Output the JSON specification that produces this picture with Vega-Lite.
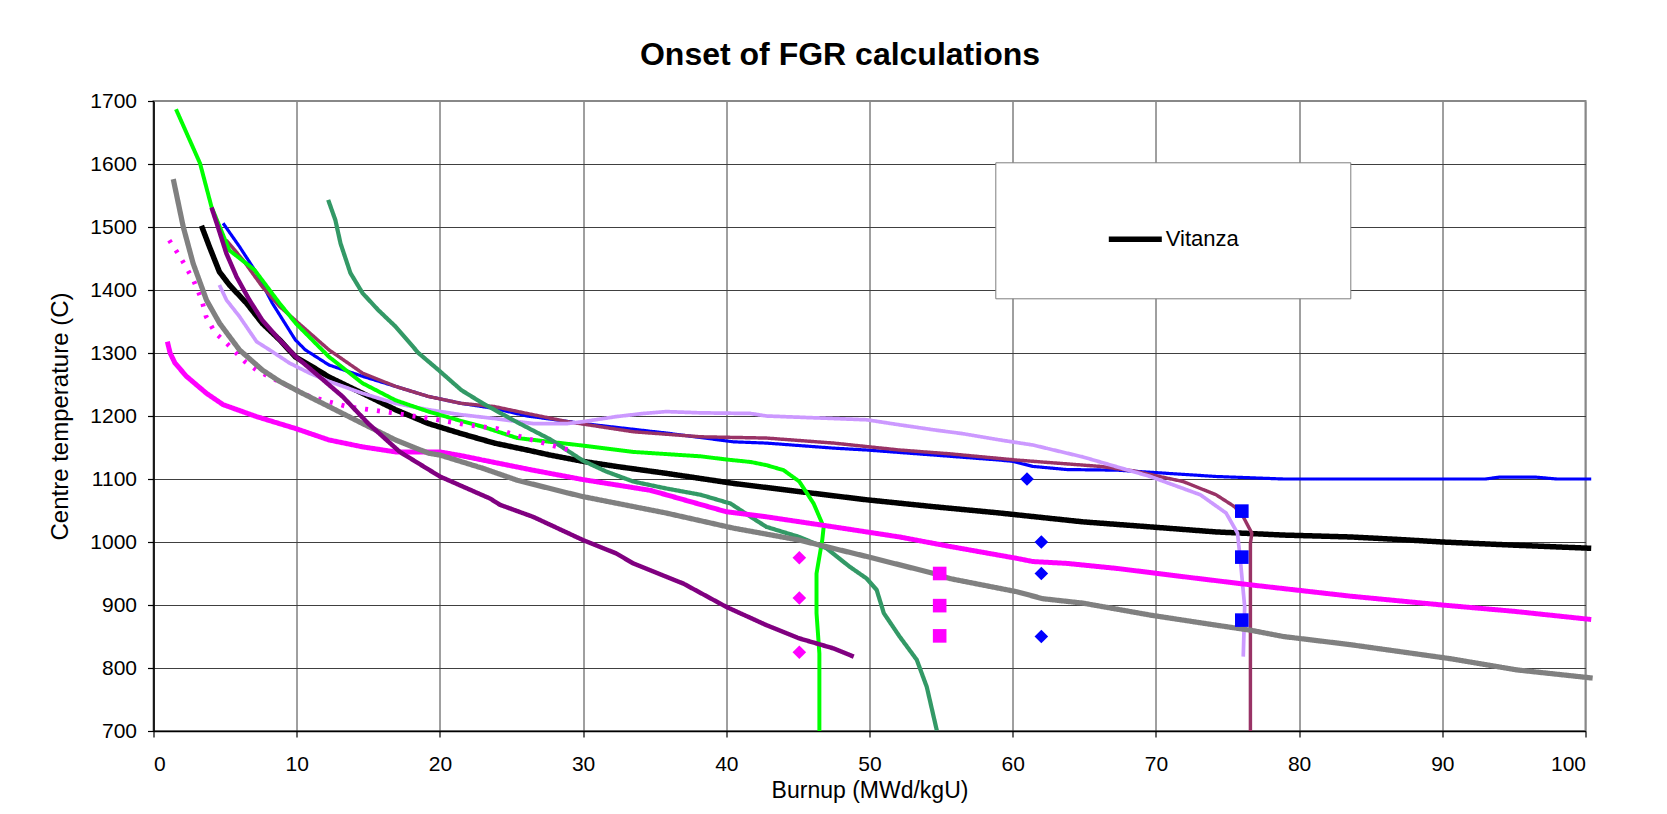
{
  "$schema": "https://vega.github.io/schema/vega-lite/v6.json",
  "width": 1432,
  "height": 630,
  "autosize": {"type": "none"},
  "padding": {"left": 153.5, "top": 101, "right": 81.5, "bottom": 83},
  "background": "white",
  "title": {"text": "Onset of FGR calculations", "fontSize": 32, "font": "Liberation Sans", "fontWeight": "bold", "color": "black", "anchor": "middle", "dx": -29.5, "offset": 18},
  "config": {
    "view": {"stroke": "#888888", "strokeWidth": 2},
    "font": "Liberation Sans",
    "axis": {
      "domainColor": "black", "domainWidth": 1.5, "tickColor": "black", "tickSize": 6, "tickWidth": 1.2,
      "labelFontSize": 21, "labelColor": "black", "labelFont": "Liberation Sans",
      "titleFontSize": 23, "titleFontWeight": "normal", "titleColor": "black", "titleFont": "Liberation Sans",
      "gridWidth": 1
    }
  },
  "datasets": {
    "lines": [
      {"series": "Vitanza", "burnup": 3.35, "temp": 1502}, {"series": "Vitanza", "burnup": 3.9, "temp": 1469}, {"series": "Vitanza", "burnup": 4.6, "temp": 1429}, {"series": "Vitanza", "burnup": 5.3, "temp": 1408}, {"series": "Vitanza", "burnup": 6.5, "temp": 1379}, {"series": "Vitanza", "burnup": 7.6, "temp": 1347}, {"series": "Vitanza", "burnup": 8.8, "temp": 1321}, {"series": "Vitanza", "burnup": 9.9, "temp": 1294}, {"series": "Vitanza", "burnup": 11.1, "temp": 1278}, {"series": "Vitanza", "burnup": 12.25, "temp": 1262}, {"series": "Vitanza", "burnup": 14.6, "temp": 1236}, {"series": "Vitanza", "burnup": 16.9, "temp": 1210}, {"series": "Vitanza", "burnup": 19.2, "temp": 1188}, {"series": "Vitanza", "burnup": 21.5, "temp": 1172}, {"series": "Vitanza", "burnup": 23.8, "temp": 1157}, {"series": "Vitanza", "burnup": 26.1, "temp": 1146}, {"series": "Vitanza", "burnup": 27.7, "temp": 1138}, {"series": "Vitanza", "burnup": 30, "temp": 1128}, {"series": "Vitanza", "burnup": 32.3, "temp": 1120}, {"series": "Vitanza", "burnup": 35.8, "temp": 1109}, {"series": "Vitanza", "burnup": 40.5, "temp": 1093}, {"series": "Vitanza", "burnup": 45.1, "temp": 1080}, {"series": "Vitanza", "burnup": 49.8, "temp": 1067}, {"series": "Vitanza", "burnup": 54.5, "temp": 1056}, {"series": "Vitanza", "burnup": 59.1, "temp": 1046}, {"series": "Vitanza", "burnup": 64.9, "temp": 1032}, {"series": "Vitanza", "burnup": 69.6, "temp": 1024}, {"series": "Vitanza", "burnup": 74.2, "temp": 1016}, {"series": "Vitanza", "burnup": 78.9, "temp": 1011}, {"series": "Vitanza", "burnup": 83.6, "temp": 1008}, {"series": "Vitanza", "burnup": 87, "temp": 1004}, {"series": "Vitanza", "burnup": 90, "temp": 1000}, {"series": "Vitanza", "burnup": 95, "temp": 995}, {"series": "Vitanza", "burnup": 100.4, "temp": 990},

      {"series": "Blue", "burnup": 4.86, "temp": 1506}, {"series": "Blue", "burnup": 6.0, "temp": 1469}, {"series": "Blue", "burnup": 7.2, "temp": 1427}, {"series": "Blue", "burnup": 8.3, "temp": 1379}, {"series": "Blue", "burnup": 9.9, "temp": 1321}, {"series": "Blue", "burnup": 10.6, "temp": 1305}, {"series": "Blue", "burnup": 12.25, "temp": 1281}, {"series": "Blue", "burnup": 14.6, "temp": 1263}, {"series": "Blue", "burnup": 16.9, "temp": 1247}, {"series": "Blue", "burnup": 19.2, "temp": 1231}, {"series": "Blue", "burnup": 21.5, "temp": 1220}, {"series": "Blue", "burnup": 23.8, "temp": 1212}, {"series": "Blue", "burnup": 26.1, "temp": 1200}, {"series": "Blue", "burnup": 30, "temp": 1188}, {"series": "Blue", "burnup": 35.8, "temp": 1173}, {"series": "Blue", "burnup": 40.5, "temp": 1159}, {"series": "Blue", "burnup": 42.8, "temp": 1157}, {"series": "Blue", "burnup": 47.5, "temp": 1149}, {"series": "Blue", "burnup": 49.8, "temp": 1146}, {"series": "Blue", "burnup": 54.5, "temp": 1138}, {"series": "Blue", "burnup": 59.1, "temp": 1130}, {"series": "Blue", "burnup": 60, "temp": 1128}, {"series": "Blue", "burnup": 61.4, "temp": 1120}, {"series": "Blue", "burnup": 63.8, "temp": 1115}, {"series": "Blue", "burnup": 67.3, "temp": 1114}, {"series": "Blue", "burnup": 70.1, "temp": 1110}, {"series": "Blue", "burnup": 74.2, "temp": 1104}, {"series": "Blue", "burnup": 78.9, "temp": 1100}, {"series": "Blue", "burnup": 83.6, "temp": 1100}, {"series": "Blue", "burnup": 93, "temp": 1100}, {"series": "Blue", "burnup": 94, "temp": 1103}, {"series": "Blue", "burnup": 96.5, "temp": 1103}, {"series": "Blue", "burnup": 98, "temp": 1100}, {"series": "Blue", "burnup": 100.4, "temp": 1100},

      {"series": "Maroon", "burnup": 5.09, "temp": 1479}, {"series": "Maroon", "burnup": 6.24, "temp": 1448}, {"series": "Maroon", "burnup": 7.6, "temp": 1405}, {"series": "Maroon", "burnup": 8.8, "temp": 1374}, {"series": "Maroon", "burnup": 10.4, "temp": 1342}, {"series": "Maroon", "burnup": 12.25, "temp": 1305}, {"series": "Maroon", "burnup": 14.6, "temp": 1268}, {"series": "Maroon", "burnup": 16.9, "temp": 1247}, {"series": "Maroon", "burnup": 19.2, "temp": 1231}, {"series": "Maroon", "burnup": 21.5, "temp": 1220}, {"series": "Maroon", "burnup": 23.8, "temp": 1215}, {"series": "Maroon", "burnup": 26.1, "temp": 1204}, {"series": "Maroon", "burnup": 28.9, "temp": 1191}, {"series": "Maroon", "burnup": 33.5, "temp": 1175}, {"series": "Maroon", "burnup": 38.2, "temp": 1167}, {"series": "Maroon", "burnup": 42.8, "temp": 1165}, {"series": "Maroon", "burnup": 47.5, "temp": 1157}, {"series": "Maroon", "burnup": 52.1, "temp": 1146}, {"series": "Maroon", "burnup": 55.6, "temp": 1140}, {"series": "Maroon", "burnup": 60.3, "temp": 1130}, {"series": "Maroon", "burnup": 66.1, "temp": 1120}, {"series": "Maroon", "burnup": 68.4, "temp": 1113}, {"series": "Maroon", "burnup": 71.9, "temp": 1096}, {"series": "Maroon", "burnup": 74.2, "temp": 1075}, {"series": "Maroon", "burnup": 75.5, "temp": 1056}, {"series": "Maroon", "burnup": 76.1, "temp": 1040}, {"series": "Maroon", "burnup": 76.7, "temp": 1014}, {"series": "Maroon", "burnup": 76.6, "temp": 998}, {"series": "Maroon", "burnup": 76.6, "temp": 700},

      {"series": "Lilac", "burnup": 4.6, "temp": 1408}, {"series": "Lilac", "burnup": 5.1, "temp": 1384}, {"series": "Lilac", "burnup": 6.0, "temp": 1358}, {"series": "Lilac", "burnup": 7.2, "temp": 1318}, {"series": "Lilac", "burnup": 8.1, "temp": 1305}, {"series": "Lilac", "burnup": 9.5, "temp": 1284}, {"series": "Lilac", "burnup": 10.9, "temp": 1268}, {"series": "Lilac", "burnup": 12.25, "temp": 1255}, {"series": "Lilac", "burnup": 14.6, "temp": 1236}, {"series": "Lilac", "burnup": 16.9, "temp": 1220}, {"series": "Lilac", "burnup": 19.2, "temp": 1210}, {"series": "Lilac", "burnup": 21.5, "temp": 1202}, {"series": "Lilac", "burnup": 23.8, "temp": 1196}, {"series": "Lilac", "burnup": 26.5, "temp": 1188}, {"series": "Lilac", "burnup": 28.9, "temp": 1188}, {"series": "Lilac", "burnup": 30, "temp": 1191}, {"series": "Lilac", "burnup": 32.3, "temp": 1199}, {"series": "Lilac", "burnup": 34.2, "temp": 1204}, {"series": "Lilac", "burnup": 35.8, "temp": 1207}, {"series": "Lilac", "burnup": 38.2, "temp": 1205}, {"series": "Lilac", "burnup": 41.7, "temp": 1204}, {"series": "Lilac", "burnup": 42.8, "temp": 1200}, {"series": "Lilac", "burnup": 47.5, "temp": 1196}, {"series": "Lilac", "burnup": 49.8, "temp": 1194}, {"series": "Lilac", "burnup": 52.1, "temp": 1186}, {"series": "Lilac", "burnup": 54.5, "temp": 1178}, {"series": "Lilac", "burnup": 56.5, "temp": 1172}, {"series": "Lilac", "burnup": 59.1, "temp": 1162}, {"series": "Lilac", "burnup": 61.4, "temp": 1154}, {"series": "Lilac", "burnup": 64.9, "temp": 1135}, {"series": "Lilac", "burnup": 69.6, "temp": 1104}, {"series": "Lilac", "burnup": 73.1, "temp": 1075}, {"series": "Lilac", "burnup": 74.9, "temp": 1046}, {"series": "Lilac", "burnup": 75.7, "temp": 1014}, {"series": "Lilac", "burnup": 75.9, "temp": 971}, {"series": "Lilac", "burnup": 76.2, "temp": 897}, {"series": "Lilac", "burnup": 76.1, "temp": 818},

      {"series": "Green", "burnup": 1.57, "temp": 1687}, {"series": "Green", "burnup": 3.25, "temp": 1601}, {"series": "Green", "burnup": 4.05, "temp": 1532}, {"series": "Green", "burnup": 5.3, "temp": 1463}, {"series": "Green", "burnup": 7.05, "temp": 1432}, {"series": "Green", "burnup": 8.8, "temp": 1379}, {"series": "Green", "burnup": 9.94, "temp": 1347}, {"series": "Green", "burnup": 12.25, "temp": 1294}, {"series": "Green", "burnup": 14.6, "temp": 1252}, {"series": "Green", "burnup": 16.9, "temp": 1225}, {"series": "Green", "burnup": 19.2, "temp": 1207}, {"series": "Green", "burnup": 21.5, "temp": 1192}, {"series": "Green", "burnup": 23.0, "temp": 1183}, {"series": "Green", "burnup": 25.4, "temp": 1165}, {"series": "Green", "burnup": 27.7, "temp": 1159}, {"series": "Green", "burnup": 30, "temp": 1153}, {"series": "Green", "burnup": 33.5, "temp": 1143}, {"series": "Green", "burnup": 38.2, "temp": 1136}, {"series": "Green", "burnup": 40, "temp": 1131}, {"series": "Green", "burnup": 41.7, "temp": 1127}, {"series": "Green", "burnup": 42.8, "temp": 1122}, {"series": "Green", "burnup": 44, "temp": 1114}, {"series": "Green", "burnup": 45.1, "temp": 1096}, {"series": "Green", "burnup": 46.1, "temp": 1061}, {"series": "Green", "burnup": 46.8, "temp": 1024}, {"series": "Green", "burnup": 46.7, "temp": 1003}, {"series": "Green", "burnup": 46.3, "temp": 950}, {"series": "Green", "burnup": 46.3, "temp": 887}, {"series": "Green", "burnup": 46.5, "temp": 823}, {"series": "Green", "burnup": 46.5, "temp": 700},

      {"series": "Sea green", "burnup": 12.2, "temp": 1543}, {"series": "Sea green", "burnup": 12.7, "temp": 1511}, {"series": "Sea green", "burnup": 13.06, "temp": 1474}, {"series": "Sea green", "burnup": 13.75, "temp": 1427}, {"series": "Sea green", "burnup": 14.6, "temp": 1395}, {"series": "Sea green", "burnup": 15.7, "temp": 1368}, {"series": "Sea green", "burnup": 16.9, "temp": 1342}, {"series": "Sea green", "burnup": 18.5, "temp": 1300}, {"series": "Sea green", "burnup": 19.9, "temp": 1273}, {"series": "Sea green", "burnup": 20.7, "temp": 1257}, {"series": "Sea green", "burnup": 21.5, "temp": 1241}, {"series": "Sea green", "burnup": 23.0, "temp": 1220}, {"series": "Sea green", "burnup": 25.4, "temp": 1190}, {"series": "Sea green", "burnup": 27.7, "temp": 1163}, {"series": "Sea green", "burnup": 30, "temp": 1129}, {"series": "Sea green", "burnup": 31.6, "temp": 1112}, {"series": "Sea green", "burnup": 33.5, "temp": 1096}, {"series": "Sea green", "burnup": 35.8, "temp": 1085}, {"series": "Sea green", "burnup": 38.2, "temp": 1075}, {"series": "Sea green", "burnup": 40.3, "temp": 1061}, {"series": "Sea green", "burnup": 41.7, "temp": 1040}, {"series": "Sea green", "burnup": 42.8, "temp": 1024}, {"series": "Sea green", "burnup": 45.1, "temp": 1008}, {"series": "Sea green", "burnup": 47, "temp": 990}, {"series": "Sea green", "burnup": 48.6, "temp": 961}, {"series": "Sea green", "burnup": 49.8, "temp": 942}, {"series": "Sea green", "burnup": 50.5, "temp": 924}, {"series": "Sea green", "burnup": 51, "temp": 887}, {"series": "Sea green", "burnup": 52.1, "temp": 850}, {"series": "Sea green", "burnup": 53.3, "temp": 813}, {"series": "Sea green", "burnup": 54, "temp": 770}, {"series": "Sea green", "burnup": 54.7, "temp": 701},

      {"series": "Magenta", "burnup": 0.97, "temp": 1318}, {"series": "Magenta", "burnup": 1.16, "temp": 1300}, {"series": "Magenta", "burnup": 1.5, "temp": 1284}, {"series": "Magenta", "burnup": 2.3, "temp": 1263}, {"series": "Magenta", "burnup": 3.7, "temp": 1236}, {"series": "Magenta", "burnup": 4.86, "temp": 1218}, {"series": "Magenta", "burnup": 7.2, "temp": 1199}, {"series": "Magenta", "burnup": 9.94, "temp": 1180}, {"series": "Magenta", "burnup": 12.25, "temp": 1162}, {"series": "Magenta", "burnup": 14.6, "temp": 1151}, {"series": "Magenta", "burnup": 16.9, "temp": 1143}, {"series": "Magenta", "burnup": 20, "temp": 1143}, {"series": "Magenta", "burnup": 21.5, "temp": 1137}, {"series": "Magenta", "burnup": 23, "temp": 1130}, {"series": "Magenta", "burnup": 26.5, "temp": 1114}, {"series": "Magenta", "burnup": 30, "temp": 1099}, {"series": "Magenta", "burnup": 34.7, "temp": 1082}, {"series": "Magenta", "burnup": 35.8, "temp": 1075}, {"series": "Magenta", "burnup": 40, "temp": 1048}, {"series": "Magenta", "burnup": 42.8, "temp": 1040}, {"series": "Magenta", "burnup": 47.5, "temp": 1024}, {"series": "Magenta", "burnup": 52.1, "temp": 1008}, {"series": "Magenta", "burnup": 55.6, "temp": 993}, {"series": "Magenta", "burnup": 60.3, "temp": 974}, {"series": "Magenta", "burnup": 61.4, "temp": 969}, {"series": "Magenta", "burnup": 63.8, "temp": 966}, {"series": "Magenta", "burnup": 67.3, "temp": 958}, {"series": "Magenta", "burnup": 71.9, "temp": 945}, {"series": "Magenta", "burnup": 76.6, "temp": 932}, {"series": "Magenta", "burnup": 83.6, "temp": 914}, {"series": "Magenta", "burnup": 90, "temp": 900}, {"series": "Magenta", "burnup": 95, "temp": 890}, {"series": "Magenta", "burnup": 100.4, "temp": 877},

      {"series": "Magenta dotted", "burnup": 1.1, "temp": 1479}, {"series": "Magenta dotted", "burnup": 1.85, "temp": 1453}, {"series": "Magenta dotted", "burnup": 2.78, "temp": 1416}, {"series": "Magenta dotted", "burnup": 3.37, "temp": 1384}, {"series": "Magenta dotted", "burnup": 3.67, "temp": 1358}, {"series": "Magenta dotted", "burnup": 4.3, "temp": 1332}, {"series": "Magenta dotted", "burnup": 5.0, "temp": 1318}, {"series": "Magenta dotted", "burnup": 5.7, "temp": 1302}, {"series": "Magenta dotted", "burnup": 6.4, "temp": 1286}, {"series": "Magenta dotted", "burnup": 7.2, "temp": 1273}, {"series": "Magenta dotted", "burnup": 8.1, "temp": 1262}, {"series": "Magenta dotted", "burnup": 10.9, "temp": 1231}, {"series": "Magenta dotted", "burnup": 13.5, "temp": 1215}, {"series": "Magenta dotted", "burnup": 15.1, "temp": 1210}, {"series": "Magenta dotted", "burnup": 17.0, "temp": 1204}, {"series": "Magenta dotted", "burnup": 19.3, "temp": 1196}, {"series": "Magenta dotted", "burnup": 21.9, "temp": 1186}, {"series": "Magenta dotted", "burnup": 24.0, "temp": 1180}, {"series": "Magenta dotted", "burnup": 25.2, "temp": 1170}, {"series": "Magenta dotted", "burnup": 26.9, "temp": 1159}, {"series": "Magenta dotted", "burnup": 28.4, "temp": 1150}, {"series": "Magenta dotted", "burnup": 29.4, "temp": 1144},

      {"series": "Grey", "burnup": 1.38, "temp": 1576}, {"series": "Grey", "burnup": 2.08, "temp": 1500}, {"series": "Grey", "burnup": 2.77, "temp": 1442}, {"series": "Grey", "burnup": 3.7, "temp": 1384}, {"series": "Grey", "burnup": 4.62, "temp": 1347}, {"series": "Grey", "burnup": 6.0, "temp": 1305}, {"series": "Grey", "burnup": 7.6, "temp": 1273}, {"series": "Grey", "burnup": 8.8, "temp": 1255}, {"series": "Grey", "burnup": 10.4, "temp": 1236}, {"series": "Grey", "burnup": 12.25, "temp": 1215}, {"series": "Grey", "burnup": 14.6, "temp": 1188}, {"series": "Grey", "burnup": 16.9, "temp": 1162}, {"series": "Grey", "burnup": 19.2, "temp": 1141}, {"series": "Grey", "burnup": 20, "temp": 1138}, {"series": "Grey", "burnup": 23, "temp": 1117}, {"series": "Grey", "burnup": 25.4, "temp": 1098}, {"series": "Grey", "burnup": 28.9, "temp": 1078}, {"series": "Grey", "burnup": 30, "temp": 1072}, {"series": "Grey", "burnup": 35.8, "temp": 1046}, {"series": "Grey", "burnup": 40.5, "temp": 1022}, {"series": "Grey", "burnup": 45.1, "temp": 1003}, {"series": "Grey", "burnup": 49.8, "temp": 977}, {"series": "Grey", "burnup": 54.5, "temp": 950}, {"series": "Grey", "burnup": 55.6, "temp": 942}, {"series": "Grey", "burnup": 60.3, "temp": 921}, {"series": "Grey", "burnup": 62.1, "temp": 910}, {"series": "Grey", "burnup": 64.9, "temp": 903}, {"series": "Grey", "burnup": 69.6, "temp": 884}, {"series": "Grey", "burnup": 74.2, "temp": 868}, {"series": "Grey", "burnup": 76.6, "temp": 860}, {"series": "Grey", "burnup": 78.9, "temp": 850}, {"series": "Grey", "burnup": 83.6, "temp": 837}, {"series": "Grey", "burnup": 90.5, "temp": 815}, {"series": "Grey", "burnup": 95.2, "temp": 797}, {"series": "Grey", "burnup": 100.5, "temp": 784},

      {"series": "Purple", "burnup": 4.05, "temp": 1531}, {"series": "Purple", "burnup": 4.5, "temp": 1500}, {"series": "Purple", "burnup": 5.09, "temp": 1458}, {"series": "Purple", "burnup": 5.8, "temp": 1421}, {"series": "Purple", "burnup": 6.7, "temp": 1384}, {"series": "Purple", "burnup": 7.6, "temp": 1352}, {"series": "Purple", "burnup": 8.8, "temp": 1321}, {"series": "Purple", "burnup": 9.94, "temp": 1294}, {"series": "Purple", "burnup": 11.3, "temp": 1268}, {"series": "Purple", "burnup": 13.2, "temp": 1231}, {"series": "Purple", "burnup": 15.0, "temp": 1188}, {"series": "Purple", "burnup": 17.2, "temp": 1143}, {"series": "Purple", "burnup": 20, "temp": 1104}, {"series": "Purple", "burnup": 23.5, "temp": 1069}, {"series": "Purple", "burnup": 24.2, "temp": 1059}, {"series": "Purple", "burnup": 26.5, "temp": 1040}, {"series": "Purple", "burnup": 30, "temp": 1003}, {"series": "Purple", "burnup": 32.3, "temp": 982}, {"series": "Purple", "burnup": 33.5, "temp": 966}, {"series": "Purple", "burnup": 37, "temp": 934}, {"series": "Purple", "burnup": 40, "temp": 897}, {"series": "Purple", "burnup": 42.8, "temp": 868}, {"series": "Purple", "burnup": 45.1, "temp": 847}, {"series": "Purple", "burnup": 47.5, "temp": 831}, {"series": "Purple", "burnup": 48.9, "temp": 818}
    ],
    "points": [
      {"set": "Magenta diamonds", "burnup": 45.1, "temp": 975}, {"set": "Magenta diamonds", "burnup": 45.1, "temp": 911}, {"set": "Magenta diamonds", "burnup": 45.1, "temp": 825},
      {"set": "Magenta squares", "burnup": 54.9, "temp": 950}, {"set": "Magenta squares", "burnup": 54.9, "temp": 899}, {"set": "Magenta squares", "burnup": 54.9, "temp": 851},
      {"set": "Blue diamonds", "burnup": 61.0, "temp": 1100}, {"set": "Blue diamonds", "burnup": 62.0, "temp": 1000}, {"set": "Blue diamonds", "burnup": 62.0, "temp": 950}, {"set": "Blue diamonds", "burnup": 62.0, "temp": 850},
      {"set": "Blue squares", "burnup": 76.0, "temp": 1049}, {"set": "Blue squares", "burnup": 76.0, "temp": 976}, {"set": "Blue squares", "burnup": 76.0, "temp": 876}
    ]
  },
  "layer": [
    {
      "data": {"name": "lines"},
      "mark": {"type": "line", "clip": false, "strokeJoin": "round"},
      "encoding": {
        "x": {"field": "burnup", "type": "quantitative", "scale": {"domain": [0, 100], "nice": false, "zero": false},
          "axis": {"title": "Burnup (MWd/kgU)", "values": [0, 10, 20, 30, 40, 50, 60, 70, 80, 90, 100], "format": "d", "grid": true, "labelPadding": 16,
            "gridColor": {"condition": {"test": "datum.value === 100", "value": "#888888"}, "value": "#404040"},
            "titleY": 59, "titleBaseline": "middle"}},
        "y": {"field": "temp", "type": "quantitative", "scale": {"domain": [700, 1700], "nice": false, "zero": false},
          "axis": {"title": "Centre temperature (C)", "values": [700, 800, 900, 1000, 1100, 1200, 1300, 1400, 1500, 1600, 1700], "format": "d", "grid": true, "labelPadding": 11,
            "gridColor": {"condition": {"test": "datum.value === 1700", "value": "#888888"}, "value": "#404040"},
            "titleX": -93, "titleY": 315, "titleBaseline": "middle", "titleAlign": "center", "titleFontSize": 24}},
        "order": {"value": null},
        "color": {"field": "series", "type": "nominal",
          "scale": {"domain": ["Vitanza", "Grey", "Magenta", "Magenta dotted", "Purple", "Sea green", "Green", "Lilac", "Maroon", "Blue"],
                    "range": ["#000000", "#808080", "#ff00ff", "#ff00ff", "#800080", "#339966", "#00ff00", "#cc99ff", "#993366", "#0000ff"]},
          "legend": {"values": ["Vitanza"], "title": null, "orient": "none", "legendX": 841.8, "legendY": 61.3,
            "fillColor": "white", "strokeColor": "#7f7f7f", "padding": 47.5,
            "symbolType": "stroke", "symbolSize": 2809, "symbolStrokeWidth": 6, "symbolOffset": 63,
            "labelFontSize": 22, "labelColor": "black", "labelFont": "Liberation Sans", "labelOffset": 1,
            "labelExpr": "datum.label + '\u2800\u2800\u2800\u2800'"}},
        "strokeWidth": {"field": "series", "type": "nominal",
          "scale": {"domain": ["Vitanza", "Grey", "Magenta", "Magenta dotted", "Purple", "Sea green", "Green", "Lilac", "Maroon", "Blue"],
                    "range": [5.5, 3.2, 3.2, 3, 3.2, 3.2, 3.2, 3.5, 3.5, 3.2]}, "legend": null},
        "strokeDash": {"field": "series", "type": "nominal",
          "scale": {"domain": ["Vitanza", "Grey", "Magenta", "Magenta dotted", "Purple", "Sea green", "Green", "Lilac", "Maroon", "Blue"],
                    "range": [[1, 0], [1, 0], [1, 0], [3, 9], [1, 0], [1, 0], [1, 0], [1, 0], [1, 0], [1, 0]]}, "legend": null}
      }
    },
    {
      "data": {"name": "points"},
      "mark": {"type": "point", "filled": true, "opacity": 1, "size": 185, "strokeWidth": 0},
      "encoding": {
        "x": {"field": "burnup", "type": "quantitative"},
        "y": {"field": "temp", "type": "quantitative"},
        "shape": {"field": "set", "type": "nominal",
          "scale": {"domain": ["Magenta diamonds", "Magenta squares", "Blue diamonds", "Blue squares"], "range": ["diamond", "square", "diamond", "square"]}, "legend": null},
        "fill": {"field": "set", "type": "nominal",
          "scale": {"domain": ["Magenta diamonds", "Magenta squares", "Blue diamonds", "Blue squares"], "range": ["#ff00ff", "#ff00ff", "#0000ff", "#0000ff"]}, "legend": null}
      }
    }
  ]
}
